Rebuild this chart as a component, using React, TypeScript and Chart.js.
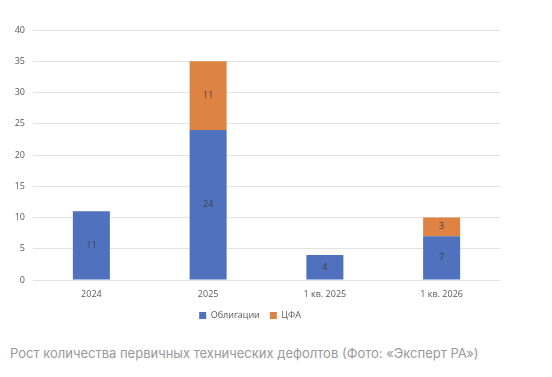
import React, { useEffect, useRef } from "react";
import { Chart, registerables } from "chart.js";

Chart.register(...registerables);

const categories = ["2024", "2025", "1 кв. 2025", "1 кв. 2026"];
const bonds = [11, 24, 4, 7];
const cfa = [0, 11, 0, 3];
const yTicks = [0, 5, 10, 15, 20, 25, 30, 35, 40];
const seriesNames = ["Облигации", "ЦФА"];
const caption = "Рост количества первичных технических дефолтов (Фото: «Эксперт РА»)";

const FONT = "'Open Sans', 'Noto Sans', sans-serif";

const labelPlugin = {
  id: "barLabels",
  afterDatasetsDraw(chart: any) {
    const ctx = chart.ctx;
    ctx.save();
    ctx.font = `9px ${FONT}`;
    ctx.fillStyle = "#404040";
    ctx.textAlign = "center";
    ctx.textBaseline = "middle";
    chart.data.datasets.forEach((ds: any, i: number) => {
      const meta = chart.getDatasetMeta(i);
      meta.data.forEach((bar: any, j: number) => {
        const v = ds.data[j];
        if (!v) return;
        const y = (bar.y + bar.base) / 2;
        ctx.fillText(String(v), bar.x, y);
      });
    });
    ctx.restore();
  },
};

export default function App() {
  const ref = useRef<HTMLCanvasElement>(null);
  useEffect(() => {
    if (!ref.current) return;
    const chart = new Chart(ref.current, {
      type: "bar",
      data: {
        labels: categories,
        datasets: [
          { label: seriesNames[0], data: bonds, backgroundColor: "#4F71BE", borderWidth: 0 },
          { label: seriesNames[1], data: cfa, backgroundColor: "#DF8344", borderWidth: 0 },
        ],
      },
      options: {
        responsive: false,
        animation: false,
        layout: { padding: { top: 30, right: 25, left: 0, bottom: 0 } },
        datasets: { bar: { categoryPercentage: 1, barPercentage: 0.317 } },
        scales: {
          x: {
            stacked: true,
            afterFit: (s: any) => { s.height = 21; },
            grid: { display: false, drawTicks: false },
            border: { display: false },
            ticks: { color: "#595959", font: { size: 9, family: FONT }, padding: 9 },
          },
          y: {
            stacked: true,
            min: 0,
            max: 40,
            afterFit: (s: any) => { s.width = 33; },
            afterBuildTicks: (s: any) => { s.ticks = yTicks.map((v) => ({ value: v })); },
            grid: { color: "#e3e3e3", lineWidth: 1, drawTicks: false },
            border: { display: false },
            ticks: { color: "#595959", font: { size: 9, family: FONT }, padding: 8 },
          },
        },
        plugins: {
          legend: {
            position: "bottom",
            labels: {
              boxWidth: 7,
              boxHeight: 7,
              color: "#595959",
              font: { size: 9, family: FONT },
              padding: 10,
            },
          },
          tooltip: { enabled: false },
        },
      },
      plugins: [labelPlugin],
    });
    return () => chart.destroy();
  }, []);
  return (
    <div style={{ position: "absolute", left: 0, top: 0, width: 552, height: 377, background: "#fff" }}>
      <canvas ref={ref} width={525} height={330} style={{ position: "absolute", left: 0, top: 0 }} />
      <div
        style={{
          position: "absolute",
          left: 10,
          top: 345,
          fontFamily: "Inter, 'Noto Sans', sans-serif",
          fontSize: 13,
          color: "#999999",
          whiteSpace: "nowrap",
        }}
      >
        {caption}
      </div>
    </div>
  );
}
